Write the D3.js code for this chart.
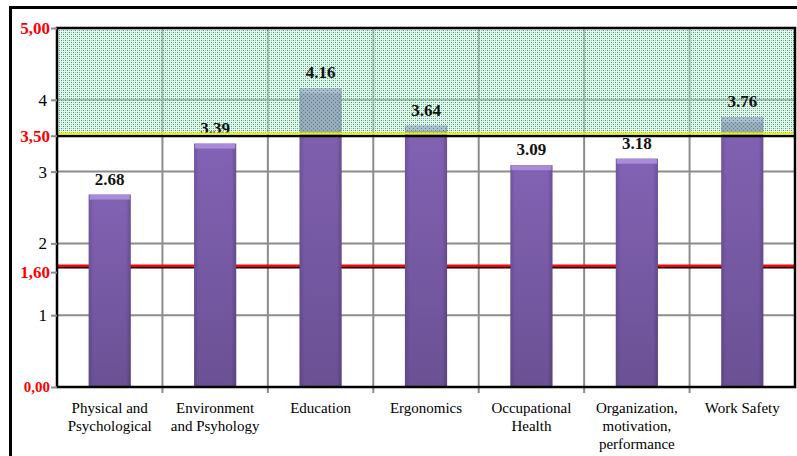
<!DOCTYPE html>
<html>
<head>
<meta charset="utf-8">
<script src="https://cdn.jsdelivr.net/npm/d3@7"></script>
<style>
  body { margin: 0; background: #fff; }
  svg { display: block; }
  svg text { font-family: "Liberation Serif", "DejaVu Serif", serif; }
</style>
</head>
<body>
<svg id="chart"></svg>
<script>
// categories (x axis), multi-line labels
var categories = ['Physical and|Psychological', 'Environment|and Psyhology', 'Education', 'Ergonomics',
                  'Occupational|Health', 'Organization,|motivation,|performance', 'Work Safety'];
// mean scores
var scores = [2.68, 3.39, 4.16, 3.64, 3.09, 3.18, 3.76];
// plain y ticks
var yTicks = [1, 2, 3, 4];
// red threshold labels and where their lines sit
var markLabels = ['5,00', '3,50', '1,60', '0,00'];
var markValues = [5, 3.5, 1.6, 0];
var upperLine = 3.53, lowerLine = 1.69;

var svgWidth = 797, svgHeight = 456;
var margin = { top: 28, right: 2, bottom: 69, left: 57 };
var innerWidth  = svgWidth  - margin.left - margin.right;
var innerHeight = svgHeight - margin.top  - margin.bottom;

var svg = d3.select('#chart').attr('width', svgWidth).attr('height', svgHeight);

var defs = svg.append('defs');
var pat = defs.append('pattern').attr('id', 'dots')
    .attr('patternUnits', 'userSpaceOnUse').attr('width', 4).attr('height', 4);
pat.append('rect').attr('width', 4).attr('height', 4).attr('fill', '#cfeedd').attr('fill-opacity', 0.45);
[[0, 0, '#2fa46c'], [2, 2, '#2fa46c'], [2, 0, '#7ccfa5'], [0, 2, '#7ccfa5']].forEach(function (p) {
  pat.append('rect').attr('x', p[0]).attr('y', p[1]).attr('width', 1).attr('height', 1).attr('fill', p[2]);
});

var grad = defs.append('linearGradient').attr('id', 'barGrad').attr('x1', 0).attr('x2', 1).attr('y1', 0).attr('y2', 0);
grad.append('stop').attr('offset', '0%').attr('stop-color', '#6f55a0');
grad.append('stop').attr('offset', '12%').attr('stop-color', '#8262b4');
grad.append('stop').attr('offset', '88%').attr('stop-color', '#8262b4');
grad.append('stop').attr('offset', '100%').attr('stop-color', '#6a5096');
var shade = defs.append('linearGradient').attr('id', 'barShade').attr('x1', 0).attr('x2', 0).attr('y1', 0).attr('y2', 1);
shade.append('stop').attr('offset', '0%').attr('stop-color', '#000').attr('stop-opacity', 0);
shade.append('stop').attr('offset', '100%').attr('stop-color', '#000').attr('stop-opacity', 0.18);

// outer frame
svg.append('line').attr('x1', 10).attr('x2', svgWidth).attr('y1', 7.5).attr('y2', 7.5)
   .attr('stroke', '#000').attr('stroke-width', 3);
svg.append('line').attr('x1', 10.5).attr('x2', 10.5).attr('y1', 6).attr('y2', svgHeight)
   .attr('stroke', '#000').attr('stroke-width', 3);

var yScale = d3.scaleLinear().domain([0, 5]).range([innerHeight, 0]);
var xScale = d3.scaleBand().domain(categories).range([0, innerWidth]).paddingInner(0.6).paddingOuter(0.3);
var step = xScale.step();

var g = svg.append('g').attr('transform', `translate(${margin.left},${margin.top})`);

// gridlines
g.selectAll('.hgrid').data(yTicks).enter().append('line')
  .attr('x1', 0).attr('x2', innerWidth)
  .attr('y1', d => yScale(d)).attr('y2', d => yScale(d))
  .attr('stroke', '#8c8c8c').attr('stroke-width', 2);
g.selectAll('.vgrid').data(d3.range(1, categories.length)).enter().append('line')
  .attr('x1', d => d * step).attr('x2', d => d * step)
  .attr('y1', 0).attr('y2', innerHeight + 6)
  .attr('stroke', '#8c8c8c').attr('stroke-width', 2);

// lower threshold line (behind bars)
g.append('line').attr('x1', 0).attr('x2', innerWidth)
  .attr('y1', yScale(lowerLine) + 2).attr('y2', yScale(lowerLine) + 2)
  .attr('stroke', '#000').attr('stroke-width', 1.5);
g.append('line').attr('x1', 0).attr('x2', innerWidth)
  .attr('y1', yScale(lowerLine)).attr('y2', yScale(lowerLine))
  .attr('stroke', '#ff0000').attr('stroke-width', 2.5);

// bars
var bars = g.selectAll('.bar').data(scores).enter().append('g').attr('class', 'bar');
bars.append('rect')
  .attr('x', (d, i) => xScale(categories[i])).attr('width', xScale.bandwidth())
  .attr('y', d => yScale(d)).attr('height', d => innerHeight - yScale(d))
  .attr('fill', 'url(#barGrad)');
bars.append('rect')
  .attr('x', (d, i) => xScale(categories[i])).attr('width', xScale.bandwidth())
  .attr('y', d => yScale(d)).attr('height', d => innerHeight - yScale(d))
  .attr('fill', 'url(#barShade)');
bars.append('rect')
  .attr('x', (d, i) => xScale(categories[i]) + 1).attr('width', xScale.bandwidth() - 2)
  .attr('y', d => yScale(d)).attr('height', 5)
  .attr('fill', '#a88cd8');

// dotted zone between upper line and 5
g.append('rect').attr('x', 0).attr('width', innerWidth)
  .attr('y', yScale(5)).attr('height', yScale(upperLine) - yScale(5))
  .attr('fill', 'url(#dots)');

// value labels
g.selectAll('.val').data(scores).enter().append('text')
  .attr('x', (d, i) => xScale(categories[i]) + xScale.bandwidth() / 2)
  .attr('y', d => yScale(d) - 10)
  .attr('text-anchor', 'middle').attr('font-size', 17).attr('font-weight', 'bold')
  .attr('fill', '#111').text(d => d.toFixed(2));

// upper threshold line
g.append('line').attr('x1', 0).attr('x2', innerWidth)
  .attr('y1', yScale(upperLine) + 2.5).attr('y2', yScale(upperLine) + 2.5)
  .attr('stroke', '#000').attr('stroke-width', 2.5);
g.append('line').attr('x1', 0).attr('x2', innerWidth)
  .attr('y1', yScale(upperLine)).attr('y2', yScale(upperLine))
  .attr('stroke', '#f2f200').attr('stroke-width', 2);

// plot border
g.append('rect').attr('x', 0).attr('y', 0).attr('width', innerWidth).attr('height', innerHeight)
  .attr('fill', 'none').attr('stroke', '#000').attr('stroke-width', 2.5);

// y axis: ticks + plain labels
var yAxis = d3.axisLeft(yScale).tickValues(yTicks.concat(markValues)).tickSize(6).tickFormat('');
var ya = g.append('g').call(yAxis);
ya.select('.domain').remove();
ya.selectAll('line').attr('stroke', '#8c8c8c').attr('stroke-width', 2);

g.selectAll('.ylab').data(yTicks).enter().append('text')
  .attr('x', -10).attr('y', d => yScale(d)).attr('dy', '0.35em')
  .attr('text-anchor', 'end').attr('font-size', 17).attr('fill', '#000').text(d => d);
g.selectAll('.mlab').data(markValues).enter().append('text')
  .attr('x', -7).attr('y', d => yScale(d)).attr('dy', '0.35em')
  .attr('text-anchor', 'end').attr('font-size', (d, i) => i === 3 ? 15 : 17)
  .attr('font-weight', 'bold').attr('fill', '#ff0000').text((d, i) => markLabels[i]);

// x labels
var xl = g.selectAll('.xlab').data(categories).enter().append('text')
  .attr('x', d => xScale(d) + xScale.bandwidth() / 2)
  .attr('y', innerHeight + 26)
  .attr('text-anchor', 'middle').attr('font-size', 15).attr('fill', '#000');
xl.selectAll('tspan').data(d => d.split('|')).enter().append('tspan')
  .attr('x', function () { return d3.select(this.parentNode).attr('x'); })
  .attr('dy', (d, i) => i === 0 ? 0 : 18).text(d => d);
</script>
</body>
</html>
